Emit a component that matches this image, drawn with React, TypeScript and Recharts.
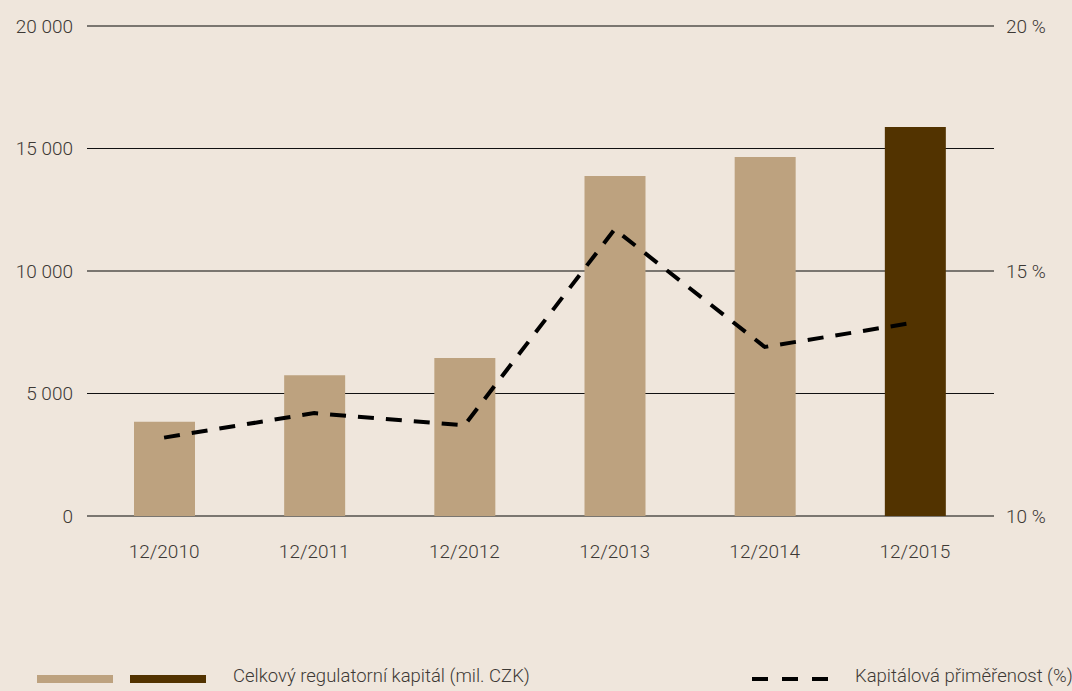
import { Bar, Cell, CartesianGrid, ComposedChart, Line, XAxis, YAxis } from "recharts"

const periods = ["12/2010", "12/2011", "12/2012", "12/2013", "12/2014", "12/2015"]
const capital = [3850, 5750, 6450, 13880, 14650, 15880]
const adequacy = [11.6, 12.1, 11.85, 15.85, 13.45, 13.95]
const leftTicks = [0, 5000, 10000, 15000, 20000]
const rightTicks = [10, 15, 20]

const data = periods.map((period, i) => ({ period, capital: capital[i], adequacy: adequacy[i] }))

const BG = "#EFE6DC"
const TAN = "#BDA27F"
const DARK = "#523300"
const TEXT = "#3d3935"
const FONT = "Roboto, sans-serif"

const fmtThousands = (v: number) => String(v).replace(/\B(?=(\d{3})+(?!\d))/g, " ")

function ChartLegend() {
    const text = {
        position: "absolute" as const,
        top: 665,
        fontSize: 18.5,
        fontWeight: 300,
        color: TEXT,
        fontFamily: FONT,
        whiteSpace: "nowrap" as const,
    }
    return (
        <div style={{ position: "absolute", left: 0, top: 0, width: 1072, height: 691 }}>
            <div style={{ position: "absolute", left: 37, top: 675, width: 76, height: 8, background: TAN }} />
            <div style={{ position: "absolute", left: 130, top: 675, width: 76, height: 8, background: DARK }} />
            <div style={{ ...text, left: 233 }}>Celkový regulatorní kapitál (mil. CZK)</div>
            <svg style={{ position: "absolute", left: 752, top: 675 }} width={80} height={8}>
                <line x1={0} x2={80} y1={4} y2={4} stroke="#000" strokeWidth={4} strokeDasharray="16 14" />
            </svg>
            <div style={{ ...text, left: 855 }}>Kapitálová přiměřenost (%)</div>
        </div>
    )
}

export default function App() {
    const tick = { fill: TEXT, fontSize: 19, fontWeight: 300, fontFamily: FONT }
    return (
        <div style={{ position: "relative", width: 1072, height: 691, background: BG, fontFamily: FONT, overflow: "hidden" }}>
            <style>{`body{margin:0}`}</style>
            <ComposedChart width={1072} height={691} data={data} margin={{ top: 26, right: 0, bottom: 0, left: 0 }}>
                {/* thin black lines for every left tick, thicker gray ones on the % ticks */}
                <CartesianGrid yAxisId="left" vertical={false} stroke="#111" strokeWidth={1} />
                <CartesianGrid yAxisId="right" vertical={false} stroke="#7a7670" strokeWidth={2} />
                <XAxis
                    dataKey="period"
                    axisLine={false}
                    tickLine={false}
                    tickSize={0}
                    tickMargin={29}
                    height={175}
                    padding={{ left: 2, right: 4 }}
                    tick={tick}
                />
                <YAxis
                    yAxisId="left"
                    domain={[0, 20000]}
                    ticks={leftTicks}
                    width={87}
                    axisLine={false}
                    tickLine={false}
                    tickSize={0}
                    tickMargin={14}
                    tickFormatter={fmtThousands}
                    tick={tick}
                />
                <YAxis
                    yAxisId="right"
                    orientation="right"
                    domain={[10, 20]}
                    ticks={rightTicks}
                    width={78}
                    axisLine={false}
                    tickLine={false}
                    tickSize={0}
                    tickMargin={12}
                    tickFormatter={(v: number) => `${v} %`}
                    tick={tick}
                />
                <Bar yAxisId="left" dataKey="capital" barSize={61} isAnimationActive={false}>
                    {data.map((_, i) => (
                        <Cell key={i} fill={i === data.length - 1 ? DARK : TAN} />
                    ))}
                </Bar>
                <Line
                    yAxisId="right"
                    dataKey="adequacy"
                    type="linear"
                    stroke="#000"
                    strokeWidth={4}
                    strokeDasharray="16 12"
                    dot={false}
                    isAnimationActive={false}
                />
            </ComposedChart>
            <ChartLegend />
        </div>
    )
}
